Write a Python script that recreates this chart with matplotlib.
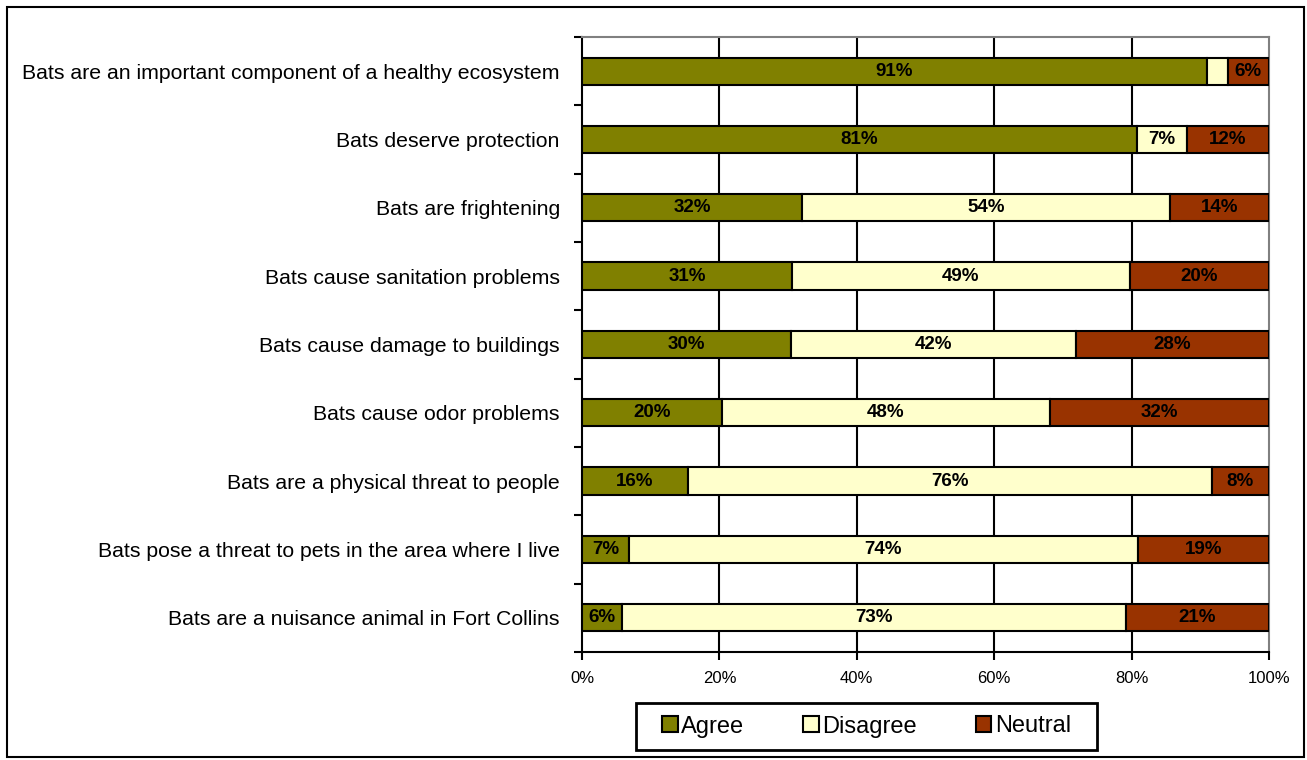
import matplotlib
matplotlib.use("Agg")
import matplotlib.pyplot as plt
from matplotlib.patches import Rectangle

plt.rcParams['font.family'] = ['Liberation Sans', 'DejaVu Sans']

categories = [
    "Bats are an important component of a healthy ecosystem",
    "Bats deserve protection",
    "Bats are frightening",
    "Bats cause sanitation problems",
    "Bats cause damage to buildings",
    "Bats cause odor problems",
    "Bats are a physical threat to people",
    "Bats pose a threat to pets in the area where I live",
    "Bats are a nuisance animal in Fort Collins",
]
agree =    [91.0, 80.8, 32.0, 30.6, 30.4, 20.4, 15.4, 6.8, 5.8]
disagree = [3.0, 7.3, 53.6, 49.1, 41.5, 47.7, 76.3, 74.1, 73.4]
neutral =  [6.0, 11.9, 14.4, 20.3, 28.1, 31.9, 8.3, 19.1, 20.8]
agree_lbl =    ["91%", "81%", "32%", "31%", "30%", "20%", "16%", "7%", "6%"]
disagree_lbl = ["", "7%", "54%", "49%", "42%", "48%", "76%", "74%", "73%"]
neutral_lbl =  ["6%", "12%", "14%", "20%", "28%", "32%", "8%", "19%", "21%"]
series_names = ["Agree", "Disagree", "Neutral"]
colors = ["#808000", "#FFFFCC", "#993300"]
xticks = [0, 20, 40, 60, 80, 100]

fig = plt.figure(figsize=(13.07, 7.6), dpi=100)
ax = fig.add_axes([582/1307, 1-652/760, (1269-582)/1307, (652-37)/760])

y = list(range(len(categories)))
left = [0]*len(categories)
for vals, lbls, col, name in zip([agree, disagree, neutral],
                                 [agree_lbl, disagree_lbl, neutral_lbl],
                                 colors, series_names):
    bars = ax.barh(y, vals, left=left, height=0.4, color=col,
                   edgecolor='black', linewidth=1.5, label=name, zorder=3)
    for b, t in zip(bars, lbls):
        if t:
            ax.text(b.get_x() + b.get_width()/2, b.get_y() + b.get_height()/2, t,
                    ha='center', va='center', fontsize=13.5, fontweight='bold',
                    color='black', zorder=4)
    left = [l + v for l, v in zip(left, vals)]

ax.set_xlim(0, 100)
ax.set_ylim(len(categories) - 0.5, -0.5)
ax.set_xticks(xticks)
ax.set_xticklabels([f"{v}%" for v in xticks], fontsize=12)
ax.set_yticks(y)
ax.set_yticklabels(categories, fontsize=15.3)
ax.tick_params(axis='y', length=0, pad=16)
ax.set_yticks([i - 0.5 for i in range(len(categories) + 1)], minor=True)
ax.tick_params(axis='y', which='minor', length=6, width=1.5, color='black')
ax.tick_params(axis='x', length=6, width=1.5, pad=8)
for v in xticks[1:-1]:
    ax.axvline(v, color='black', linewidth=1.5, zorder=1)
ax.spines['left'].set_linewidth(1.5)
ax.spines['bottom'].set_linewidth(1.5)
ax.spines['top'].set_color('#808080')
ax.spines['right'].set_color('#808080')
ax.spines['top'].set_linewidth(1.5)
ax.spines['right'].set_linewidth(1.5)

handles = [Rectangle((0, 0), 1, 1, facecolor=c, edgecolor='black', linewidth=1.5) for c in colors]
leg = fig.legend(handles, series_names, loc='center',
                 bbox_to_anchor=((636+1097)/2/1307, 1-(703+750)/2/760),
                 ncol=3, fontsize=17, frameon=False,
                 handlelength=0.65, handleheight=0.65,
                 handletextpad=0.15, columnspacing=2.5, borderpad=0.0,
                 borderaxespad=0)

fig.patches.append(Rectangle((636/1307, 1-750/760), (1097-636)/1307, 47/760,
                             transform=fig.transFigure, fill=False,
                             edgecolor='black', linewidth=2))
fig.patches.append(Rectangle((7/1307, 3/760), 1297/1307, 750/760, transform=fig.transFigure,
                             fill=False, edgecolor='black', linewidth=1.5))

fig.savefig("out.png", dpi=100)
